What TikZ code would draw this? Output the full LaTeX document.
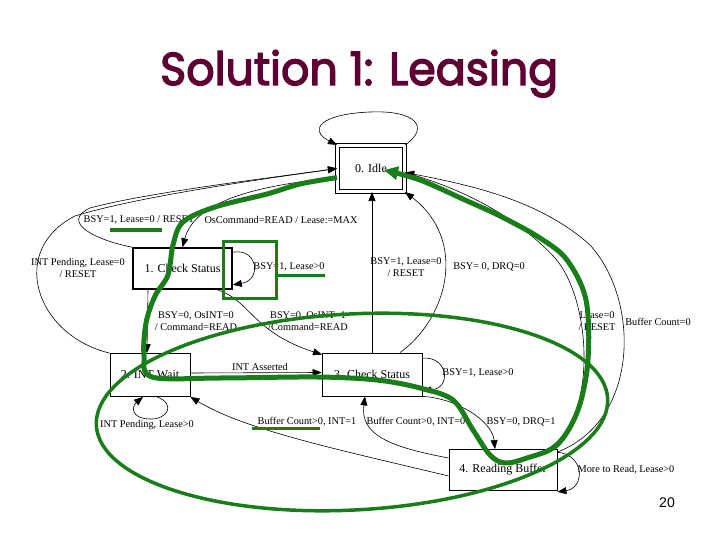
\documentclass[tikz,border=0pt]{standalone}
\usepackage{fontspec}
\setmainfont{Liberation Serif}
\newfontface\titlefont[FakeBold=3]{Poppins}
\newfontfamily\pagefont{Liberation Sans}
\usetikzlibrary{arrows.meta}
\definecolor{titlecol}{RGB}{94,0,50}
\definecolor{gr}{RGB}{25,125,25}
\begin{document}
\begin{tikzpicture}[x=1pt,y=-1pt,
  state/.style={draw,rectangle,inner sep=0pt,line width=0.8pt,font=\fontsize{12}{14}\selectfont},
  conn/.style={line width=0.6pt,-{Triangle[length=9pt,width=7pt]}},
  lab/.style={inner sep=0pt,align=center,font=\fontsize{10.3}{12}\selectfont},
  gline/.style={draw=gr,line width=3pt},
]
\useasboundingbox[fill=white] (0,0) rectangle (720,540);

% title
\node[anchor=base west,inner sep=0pt,text=titlecol] (title) at (160,85)
  {\resizebox{398pt}{35pt}{\titlefont\fontsize{40}{48}\selectfont Solution 1: Leasing}};

% states
\node[state,double,double distance=2.6pt,line width=1.1pt,minimum width=67pt,minimum height=46pt] (n0) at (371,168.5) {0. Idle};
\node[state,line width=1.6pt,minimum width=99pt,minimum height=41pt] (n1) at (182.5,268.5) {1. Check Status};
\node[state,minimum width=80pt,minimum height=43pt] (n2) at (150,375) {2. INT Wait};
\node[state,minimum width=100pt,minimum height=43pt] (n3) at (372,374.5) {3. Check Status};
\node[state,minimum width=108pt,minimum height=41pt] (n4) at (503,470) {4. Reading Buffer};

% edges
\draw[conn] (n0.north east) .. controls (430,128) and (417,110) .. (370,112)
  .. controls (320,114) and (308,130) .. (n0.north west);
\draw[conn] (n0.195) .. controls (260,185) and (195,200) .. (n1.north);
\draw[conn] (n1.north west) .. controls (95,240) and (60,222) .. (90,208)
  .. controls (150,192) and (270,178) .. (n0.west);
\draw[conn] (n2.north west) .. controls (35,335) and (8,250) .. (75,216)
  .. controls (140,196) and (270,178) .. (n0.west);
\draw[conn] (n1.18) .. controls (258,248) and (262,280) .. (n1.-18);
\draw[conn] ([xshift=-34.5pt]n1.south) -- ([xshift=-3pt]n2.north);
\draw[conn] ([xshift=35pt]n1.south) .. controls (250,300) and (252,332) .. ([xshift=-50pt,yshift=-2pt]n3.north);
\draw[conn] ([yshift=2pt]n2.east) -- ([yshift=2pt]n3.west);
\draw[conn] ([xshift=7pt]n2.south) .. controls (176,404) and (168,420) .. (149,419)
  .. controls (130,418) and (132,406) .. ([xshift=-7pt]n2.south);
\draw[conn] ([yshift=-6pt]n4.west) .. controls (340,450) and (245,430) .. (n2.south east);
\draw[conn] ([yshift=12pt]n4.west) .. controls (390,447) and (360,435) .. ([xshift=-7pt]n3.south);
\draw[conn] (n3.18) .. controls (448,356) and (452,388) .. (n3.-18);
\draw[conn] (n3.south east) .. controls (455,398) and (492,420) .. ([xshift=-8pt]n4.north);
\draw[conn] (n3.north) -- (n3.north |- n0.south);
\draw[conn] ([xshift=28pt]n3.north) .. controls (448,318) and (468,240) .. (n0.south east);
\draw[conn] ([xshift=-10pt]n4.north east) .. controls (598,420) and (592,300) .. (555,258)
  .. controls (520,220) and (470,192) .. ([yshift=-4pt]n0.east);
\draw[conn] ([yshift=-3pt]n4.north east) .. controls (640,420) and (640,300) .. (590,245)
  .. controls (540,200) and (470,185) .. ([yshift=-4pt]n0.east);
\draw[conn] ([yshift=-3pt]n4.north east) .. controls (585,455) and (585,488) .. ([yshift=-1pt]n4.south east);

% labels
\node[lab] (l1) at (281,220) {OsCommand=READ / Lease:=MAX};
\node[lab] (l2) at (139,220) {BSY=1, Lease=0 / RESET};
\node[lab] (l3) at (78,268) {INT Pending, Lease=0\\/ RESET};
\node[lab] (l4) at (289,267) {BSY=1, Lease>0};
\node[lab] (l5) at (196,321) {BSY=0, OsINT=0\\/ Command=READ};
\node[lab] (l6) at (308,321) {BSY=0, OsINT=1\\/Command=READ};
\node[lab] (l7) at (260,367) {INT Asserted};
\node[lab] (l8) at (147,425) {INT Pending, Lease>0};
\node[lab] (l9) at (307,422) {Buffer Count>0, INT=1};
\node[lab] (l10) at (416,422) {Buffer Count>0, INT=0};
\node[lab] (l11) at (478,373) {BSY=1, Lease>0};
\node[lab] (l12) at (521,422) {BSY=0, DRQ=1};
\node[lab] (l13) at (406,267) {BSY=1, Lease=0\\/ RESET};
\node[lab] (l14) at (489,267) {BSY= 0, DRQ=0};
\node[lab] (l15) at (597,321) {Lease=0\\/ RESET};
\node[lab] (l16) at (658,322) {Buffer Count=0};
\node[lab] (l17) at (626,470) {More to Read, Lease>0};
\node[inner sep=0pt,font=\pagefont\fontsize{14}{16}\selectfont] (pg) at (667,503) {20};

% green annotations
\draw[gline] (223,241) rectangle (276,298);
\draw[gline] (110,230) -- (162,230);
\draw[gline] (277,275) -- (325,275);
\draw[gline] (252,428) -- (320,428);
\draw[draw=gr,line width=3.5pt,rotate around={3:(352,412)}] (352,412) ellipse [x radius=256pt, y radius=98pt];
\draw[draw=gr,line width=5pt,line join=round,-{Triangle[length=14pt,width=13pt]}]
  plot[smooth,tension=0.55] coordinates {(n0.195) (300,184) (267,194) (215,207) (183,222) (173,245)
  (168,275) (155,296) (146,323) (144,355) (152,377) (220,378) (317,377) (377,380) (420,388)
  (453,400) (473,430) (490,455) (505,463) (527,458) (557,445) (578,410) (588,360) (586,300)
  (567,260) (540,238) (500,216) (465,200) (420,180) (384,170)};
\end{tikzpicture}
\end{document}
